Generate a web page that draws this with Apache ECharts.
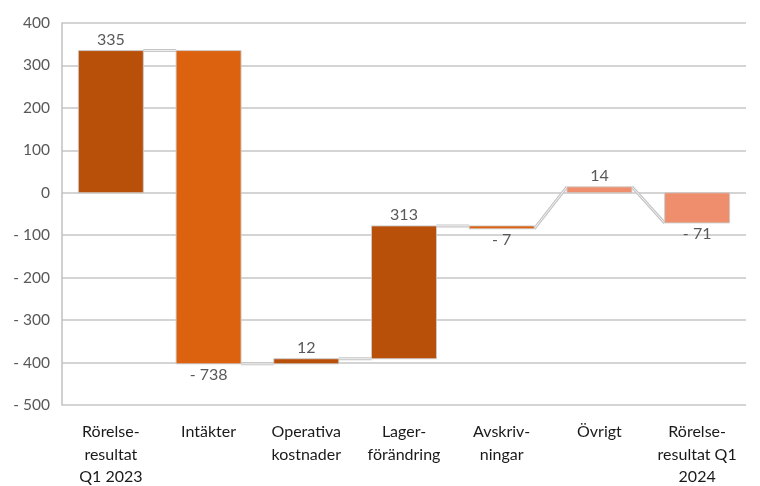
<!DOCTYPE html>
<html>
<head>
<meta charset="utf-8">
<script src="https://cdn.jsdelivr.net/npm/echarts@6/dist/echarts.min.js"></script>
<style>html,body{margin:0;padding:0;background:#fff;}#c{width:760px;height:486px;}</style>
</head>
<body>
<div id="c"></div>
<script>
var categories = ['Rörelse-\nresultat\nQ1 2023', 'Intäkter', 'Operativa\nkostnader', 'Lager-\nförändring', 'Avskriv-\nningar', 'Övrigt', 'Rörelse-\nresultat Q1\n2024'];
var values = [335, -738, 12, 313, -7, 14, -71];
var bases = [0, 335, -403, -391, -78, 0, 0];
var barColors = ['#B9500A', '#DC6210', '#B9500A', '#B9500A', '#DC6210', '#EF8E6C', '#EF8E6C'];
var connStart = [335, -403, -391, -78, -85, 14];
var connEnd = [335, -403, -391, -78, 14, -71];
var yTicks = [-500, -400, -300, -200, -100, 0, 100, 200, 300, 400];

function fmt(v) { return v < 0 ? '- ' + (-v) : String(v); }

var barData = values.map(function (v, i) { return [i, bases[i], bases[i] + v, v]; });
var connData = connStart.map(function (s, i) { return [i, s, connEnd[i]]; });
var BW = 0.665;
var FONT = 'Lato, "Open Sans", sans-serif';

var chart = echarts.init(document.getElementById('c'));
chart.setOption({
  animation: false,
  grid: { left: 62, right: 14, top: 23, bottom: 81, containLabel: false, outerBoundsMode: 'none' },
  xAxis: {
    type: 'category', data: categories,
    axisLine: { show: false }, axisTick: { show: false },
    axisLabel: { interval: 0, margin: 16, color: '#1a1a1a', fontSize: 16, fontFamily: FONT, lineHeight: 22.5 }
  },
  yAxis: {
    type: 'value', min: yTicks[0], max: yTicks[yTicks.length - 1], interval: 100,
    axisLine: { show: true, lineStyle: { color: '#c0c0c0', width: 1.5 } },
    axisTick: { show: false },
    splitLine: { lineStyle: { color: '#c6c6c6', width: 1.5 } },
    axisLabel: { color: '#595959', fontSize: 15.5, fontFamily: FONT, margin: 12, formatter: fmt }
  },
  series: [
    {
      type: 'custom', z: 3,
      data: connData,
      renderItem: function (params, api) {
        var i = api.value(0);
        var w = api.size([1, 0])[0] * BW;
        var p1 = api.coord([i, api.value(1)]);
        var p2 = api.coord([i + 1, api.value(2)]);
        var pts = [[p1[0] + w / 2, p1[1]], [p2[0] - w / 2, p2[1]]];
        return {
          type: 'group', children: [
            { type: 'polyline', shape: { points: pts }, style: { stroke: '#c4c4c4', lineWidth: 3, fill: null } },
            { type: 'polyline', shape: { points: pts }, style: { stroke: '#f2f2f2', lineWidth: 1, fill: null } }
          ]
        };
      }
    },
    {
      type: 'custom', z: 4,
      data: barData,
      renderItem: function (params, api) {
        var i = api.value(0);
        var lo = api.value(1), hi = api.value(2), v = api.value(3);
        var w = api.size([1, 0])[0] * BW;
        var a = api.coord([i, lo]);
        var b = api.coord([i, hi]);
        var top = Math.min(a[1], b[1]), bot = Math.max(a[1], b[1]);
        var children = [{
          type: 'rect',
          shape: { x: a[0] - w / 2, y: top, width: w, height: bot - top },
          style: { fill: barColors[i], stroke: 'rgba(205,205,205,0.9)', lineWidth: 1 }
        }];
        children.push({
          type: 'text',
          style: {
            text: fmt(v), x: a[0], y: v >= 0 ? top - 3 : bot + 3,
            align: 'center', verticalAlign: v >= 0 ? 'bottom' : 'top',
            fill: '#595959', fontSize: 16, fontFamily: FONT
          }
        });
        return { type: 'group', children: children };
      }
    }
  ]
});
</script>
</body>
</html>
